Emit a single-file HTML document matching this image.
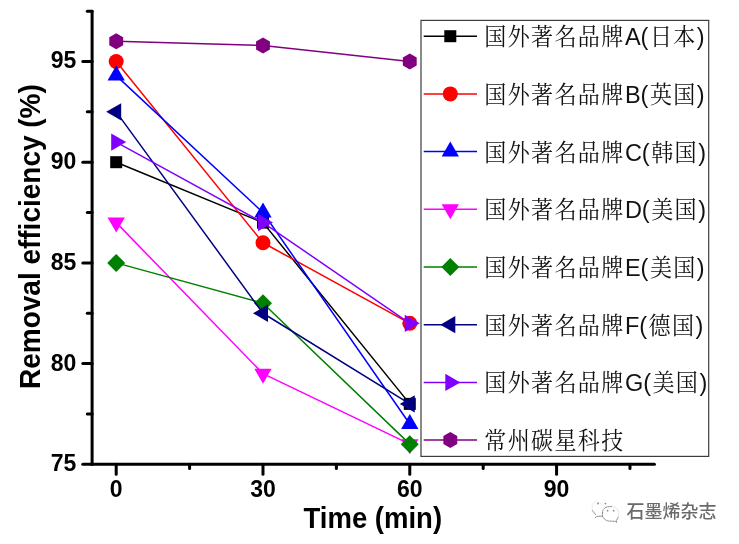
<!DOCTYPE html>
<html><head><meta charset="utf-8"><style>
html,body{margin:0;padding:0;background:#fff;}
body{width:739px;height:544px;overflow:hidden;}
svg{display:block;}
.num{font-family:"Liberation Sans",Arial,sans-serif;font-weight:bold;font-size:23px;fill:#000;}
.lab{font-family:"Liberation Sans",Arial,sans-serif;font-weight:bold;font-size:27.5px;fill:#000;}
.ylab{font-size:28px;}
.cjk{font-family:"Liberation Serif","Noto Serif CJK SC",serif;font-weight:400;font-size:24px;fill:#111;}
.lat{font-family:"Liberation Sans",Arial,sans-serif;font-size:23.5px;fill:#111;}
.wm{font-family:"Liberation Sans","Noto Sans CJK SC",sans-serif;font-weight:500;font-size:18px;fill:#6a6a6a;}
</style></head><body>
<svg width="739" height="544" viewBox="0 0 739 544">
<rect width="739" height="544" fill="#fff"/>
<polyline points="116.20,162.20 262.99,222.62 409.78,403.88" fill="none" stroke="#000000" stroke-width="1.5" stroke-linejoin="round"/>
<rect x="110.20" y="156.20" width="12" height="12" fill="#000000"/>
<rect x="256.99" y="216.62" width="12" height="12" fill="#000000"/>
<rect x="403.78" y="397.88" width="12" height="12" fill="#000000"/>
<polyline points="116.20,61.50 262.99,242.76 409.78,323.32" fill="none" stroke="#ff0000" stroke-width="1.5" stroke-linejoin="round"/>
<circle cx="116.20" cy="61.50" r="7.5" fill="#ff0000"/>
<circle cx="262.99" cy="242.76" r="7.5" fill="#ff0000"/>
<circle cx="409.78" cy="323.32" r="7.5" fill="#ff0000"/>
<polyline points="116.20,75.60 262.99,212.55 409.78,424.02" fill="none" stroke="#0000ff" stroke-width="1.5" stroke-linejoin="round"/>
<polygon points="116.20,65.60 124.86,80.60 107.54,80.60" fill="#0000ff"/>
<polygon points="262.99,202.55 271.65,217.55 254.33,217.55" fill="#0000ff"/>
<polygon points="409.78,414.02 418.44,429.02 401.12,429.02" fill="#0000ff"/>
<polyline points="116.20,222.62 262.99,373.67 409.78,444.16" fill="none" stroke="#ff00ff" stroke-width="1.5" stroke-linejoin="round"/>
<polygon points="116.20,232.62 107.54,217.62 124.86,217.62" fill="#ff00ff"/>
<polygon points="262.99,383.67 254.33,368.67 271.65,368.67" fill="#ff00ff"/>
<polygon points="409.78,454.16 401.12,439.16 418.44,439.16" fill="#ff00ff"/>
<polyline points="116.20,262.90 262.99,303.18 409.78,444.16" fill="none" stroke="#008000" stroke-width="1.5" stroke-linejoin="round"/>
<polygon points="116.20,253.90 125.20,262.90 116.20,271.90 107.20,262.90" fill="#008000"/>
<polygon points="262.99,294.18 271.99,303.18 262.99,312.18 253.99,303.18" fill="#008000"/>
<polygon points="409.78,435.16 418.78,444.16 409.78,453.16 400.78,444.16" fill="#008000"/>
<polyline points="116.20,111.85 262.99,313.25 409.78,403.88" fill="none" stroke="#000080" stroke-width="1.5" stroke-linejoin="round"/>
<polygon points="106.20,111.85 121.20,103.19 121.20,120.51" fill="#000080"/>
<polygon points="252.99,313.25 267.99,304.59 267.99,321.91" fill="#000080"/>
<polygon points="399.78,403.88 414.78,395.22 414.78,412.54" fill="#000080"/>
<polyline points="116.20,142.06 262.99,222.62 409.78,323.32" fill="none" stroke="#8000ff" stroke-width="1.5" stroke-linejoin="round"/>
<polygon points="126.20,142.06 111.20,150.72 111.20,133.40" fill="#8000ff"/>
<polygon points="272.99,222.62 257.99,231.28 257.99,213.96" fill="#8000ff"/>
<polygon points="419.78,323.32 404.78,331.98 404.78,314.66" fill="#8000ff"/>
<polyline points="116.20,41.36 262.99,45.39 409.78,61.50" fill="none" stroke="#800080" stroke-width="1.5" stroke-linejoin="round"/>
<polygon points="116.20,33.36 123.13,37.36 123.13,45.36 116.20,49.36 109.27,45.36 109.27,37.36" fill="#800080"/>
<polygon points="262.99,37.39 269.92,41.39 269.92,49.39 262.99,53.39 256.06,49.39 256.06,41.39" fill="#800080"/>
<polygon points="409.78,53.50 416.71,57.50 416.71,65.50 409.78,69.50 402.85,65.50 402.85,57.50" fill="#800080"/>
<g stroke="#000" stroke-width="3" stroke-linecap="round" fill="none">
<line x1="92.1" y1="11.15" x2="92.1" y2="464.3"/>
<line x1="92.1" y1="464.3" x2="654.43" y2="464.3"/>
<line x1="82.8" y1="464.30" x2="92.1" y2="464.30"/>
<line x1="82.8" y1="363.60" x2="92.1" y2="363.60"/>
<line x1="82.8" y1="262.90" x2="92.1" y2="262.90"/>
<line x1="82.8" y1="162.20" x2="92.1" y2="162.20"/>
<line x1="82.8" y1="61.50" x2="92.1" y2="61.50"/>
<line x1="87.3" y1="413.95" x2="92.1" y2="413.95"/>
<line x1="87.3" y1="313.25" x2="92.1" y2="313.25"/>
<line x1="87.3" y1="212.55" x2="92.1" y2="212.55"/>
<line x1="87.3" y1="111.85" x2="92.1" y2="111.85"/>
<line x1="87.3" y1="11.15" x2="92.1" y2="11.15"/>
<line x1="116.20" y1="464.3" x2="116.20" y2="474.3"/>
<line x1="262.99" y1="464.3" x2="262.99" y2="474.3"/>
<line x1="409.78" y1="464.3" x2="409.78" y2="474.3"/>
<line x1="556.57" y1="464.3" x2="556.57" y2="474.3"/>
<line x1="189.59" y1="464.3" x2="189.59" y2="468.5"/>
<line x1="336.38" y1="464.3" x2="336.38" y2="468.5"/>
<line x1="483.17" y1="464.3" x2="483.17" y2="468.5"/>
<line x1="629.97" y1="464.3" x2="629.97" y2="468.5"/>
</g>
<text class="num" x="76.3" y="471.20" text-anchor="end">75</text>
<text class="num" x="76.3" y="370.50" text-anchor="end">80</text>
<text class="num" x="76.3" y="269.80" text-anchor="end">85</text>
<text class="num" x="76.3" y="169.10" text-anchor="end">90</text>
<text class="num" x="76.3" y="68.40" text-anchor="end">95</text>
<text class="num" x="116.20" y="497.3" text-anchor="middle">0</text>
<text class="num" x="262.99" y="497.3" text-anchor="middle">30</text>
<text class="num" x="409.78" y="497.3" text-anchor="middle">60</text>
<text class="num" x="556.57" y="497.3" text-anchor="middle">90</text>
<text class="lab" transform="translate(372.8,527.5) scale(1,1.05)" text-anchor="middle">Time (min)</text>
<text class="lab ylab" transform="translate(39.6,236.6) rotate(-90) scale(1,1.05)" text-anchor="middle">Removal efficiency (%)</text>
<rect x="421" y="20.4" width="287.7" height="436" fill="#fff" stroke="#3c3c3c" stroke-width="1.2"/>
<line x1="423.7" y1="36.20" x2="477" y2="36.20" stroke="#000000" stroke-width="1.5"/>
<rect x="444.30" y="30.20" width="12" height="12" fill="#000000"/>
<text class="cjk" transform="translate(484.30,45.20) scale(0.92,1)" style="letter-spacing:1.43px">国外著名品牌</text>
<text class="lat" x="624.88" y="45.20">A(</text>
<text class="cjk" transform="translate(649.88,45.20) scale(0.92,1)" style="letter-spacing:1.43px">日本</text>
<text class="lat" x="696.86" y="45.20">)</text>
<line x1="423.7" y1="93.90" x2="477" y2="93.90" stroke="#ff0000" stroke-width="1.5"/>
<circle cx="450.30" cy="93.90" r="7.5" fill="#ff0000"/>
<text class="cjk" transform="translate(484.30,102.90) scale(0.92,1)" style="letter-spacing:1.43px">国外著名品牌</text>
<text class="lat" x="624.88" y="102.90">B(</text>
<text class="cjk" transform="translate(649.88,102.90) scale(0.92,1)" style="letter-spacing:1.43px">英国</text>
<text class="lat" x="696.86" y="102.90">)</text>
<line x1="423.7" y1="151.60" x2="477" y2="151.60" stroke="#0000ff" stroke-width="1.5"/>
<polygon points="450.30,141.60 458.96,156.60 441.64,156.60" fill="#0000ff"/>
<text class="cjk" transform="translate(484.30,160.60) scale(0.92,1)" style="letter-spacing:1.43px">国外著名品牌</text>
<text class="lat" x="624.88" y="160.60">C(</text>
<text class="cjk" transform="translate(651.17,160.60) scale(0.92,1)" style="letter-spacing:1.43px">韩国</text>
<text class="lat" x="698.15" y="160.60">)</text>
<line x1="423.7" y1="209.30" x2="477" y2="209.30" stroke="#ff00ff" stroke-width="1.5"/>
<polygon points="450.30,219.30 441.64,204.30 458.96,204.30" fill="#ff00ff"/>
<text class="cjk" transform="translate(484.30,218.30) scale(0.92,1)" style="letter-spacing:1.43px">国外著名品牌</text>
<text class="lat" x="624.88" y="218.30">D(</text>
<text class="cjk" transform="translate(651.17,218.30) scale(0.92,1)" style="letter-spacing:1.43px">美国</text>
<text class="lat" x="698.15" y="218.30">)</text>
<line x1="423.7" y1="267.00" x2="477" y2="267.00" stroke="#008000" stroke-width="1.5"/>
<polygon points="450.30,258.00 459.30,267.00 450.30,276.00 441.30,267.00" fill="#008000"/>
<text class="cjk" transform="translate(484.30,276.00) scale(0.92,1)" style="letter-spacing:1.43px">国外著名品牌</text>
<text class="lat" x="624.88" y="276.00">E(</text>
<text class="cjk" transform="translate(649.88,276.00) scale(0.92,1)" style="letter-spacing:1.43px">美国</text>
<text class="lat" x="696.86" y="276.00">)</text>
<line x1="423.7" y1="324.70" x2="477" y2="324.70" stroke="#000080" stroke-width="1.5"/>
<polygon points="440.30,324.70 455.30,316.04 455.30,333.36" fill="#000080"/>
<text class="cjk" transform="translate(484.30,333.70) scale(0.92,1)" style="letter-spacing:1.43px">国外著名品牌</text>
<text class="lat" x="624.88" y="333.70">F(</text>
<text class="cjk" transform="translate(648.56,333.70) scale(0.92,1)" style="letter-spacing:1.43px">德国</text>
<text class="lat" x="695.54" y="333.70">)</text>
<line x1="423.7" y1="382.40" x2="477" y2="382.40" stroke="#8000ff" stroke-width="1.5"/>
<polygon points="460.30,382.40 445.30,391.06 445.30,373.74" fill="#8000ff"/>
<text class="cjk" transform="translate(484.30,391.40) scale(0.92,1)" style="letter-spacing:1.43px">国外著名品牌</text>
<text class="lat" x="624.88" y="391.40">G(</text>
<text class="cjk" transform="translate(652.49,391.40) scale(0.92,1)" style="letter-spacing:1.43px">美国</text>
<text class="lat" x="699.47" y="391.40">)</text>
<line x1="423.7" y1="440.10" x2="477" y2="440.10" stroke="#800080" stroke-width="1.5"/>
<polygon points="450.30,432.10 457.23,436.10 457.23,444.10 450.30,448.10 443.37,444.10 443.37,436.10" fill="#800080"/>
<text class="cjk" transform="translate(484.30,449.10) scale(0.92,1)" style="letter-spacing:1.43px">常州碳星科技</text>
<g fill="none" stroke-width="1" stroke-linecap="round">
<path d="M602.5,506 C599,499.5 591,499.5 592.3,510" stroke="#ececec"/>
<path d="M611.5,506 C617,506.5 619.5,511 618.5,515.5" stroke="#e6e6e6"/>
<g stroke="#8c8c8c" stroke-dasharray="1.4 1">
<path d="M592.4,510.5 L595.5,514.5"/>
<path d="M595.3,517.8 L596.5,516.4 L602.4,516.2"/>
<path d="M602.4,516.2 L602.6,511.2 C603.5,508.5 605.5,507.3 607.5,506.8 L611.5,506.6"/>
<path d="M602.4,516.2 C603.8,518.8 605.8,520.6 608.5,521 L615.5,521.4"/>
<path d="M618.3,517 L616.3,520.6 L616.6,522.3"/>
</g>
</g>
<g fill="#8a8a8a"><circle cx="598" cy="503.5" r="0.9"/><circle cx="605.4" cy="503.6" r="0.9"/><circle cx="607.6" cy="510.7" r="0.85"/><circle cx="613.7" cy="510.7" r="0.85"/></g>
<text class="wm" x="626.5" y="517.6" stroke="#fff" stroke-width="2" paint-order="stroke">石墨烯杂志</text>
</svg></body></html>
